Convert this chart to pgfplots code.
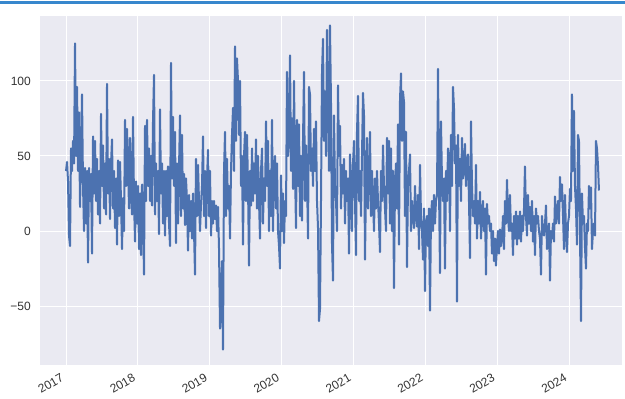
\documentclass[border=0pt]{standalone}
\usepackage{pgfplots}
\pgfplotsset{compat=1.18}
\usepackage{pgfplotstable}
\usepackage{fontspec}
\setmainfont{Liberation Sans}
\definecolor{sbblue}{HTML}{4C72B0}
\definecolor{sbbg}{HTML}{EAEAF2}
\definecolor{topblue}{RGB}{55,135,205}

\pgfplotstableread{
px v
66 40
67 46
68 33
69 -3
70 -10
71 55
72 40
73 60
74 45
75 125
76 50
77 96
78 40
79 79
80 16
81 50
82 91
83 30
84 0
85 42
86 5
87 40
88 -21
89 42
90 20
91 38
92 -15
93 63
94 25
95 60
96 20
97 48
98 11
99 40
100 5
101 78
102 30
103 57
104 15
105 45
106 11
107 98
108 25
109 48
110 8
111 45
112 61
113 15
114 40
115 2
116 35
117 -9
118 47
119 10
120 46
121 20
122 -12
123 22
124 0
125 74
126 30
127 68
128 44
129 15
130 62
131 25
132 11
133 76
134 20
135 -7
136 33
137 5
138 30
139 -12
140 25
141 -16
142 31
143 10
144 -29
145 70
146 20
147 74
148 30
149 55
150 20
151 50
152 17
153 73
154 104
155 11
156 45
157 20
158 40
159 -2
160 81
161 25
162 45
163 5
164 40
165 -3
166 40
167 10
168 43
169 5
170 -10
171 112
172 35
173 76
174 30
175 66
176 -8
177 45
178 5
179 42
180 77
181 10
182 64
183 15
184 38
185 4
186 35
187 20
188 -13
189 24
190 0
191 20
192 -5
193 25
194 0
195 -29
196 48
197 10
198 44
199 20
200 0
201 18
202 30
203 63
204 10
205 40
206 2
207 35
208 54
209 10
210 40
211 -3
212 20
213 5
214 20
215 8
216 17
217 0
218 16
219 -12
220 -65
221 -50
222 -20
223 -79
224 40
225 66
226 10
227 48
228 15
229 30
230 -5
231 40
232 64
233 82
234 40
235 123
236 60
237 115
238 100
239 64
240 100
241 30
242 50
243 -9
244 50
245 66
246 20
247 64
248 30
249 -23
250 40
251 17
252 55
253 20
254 45
255 25
256 61
257 15
258 50
259 20
260 -5
261 40
262 55
263 5
264 35
265 20
266 73
267 30
268 60
269 0
270 40
271 10
272 74
273 0
274 40
275 50
276 15
277 45
278 0
279 -10
280 -25
281 37
282 0
283 25
284 -8
285 20
286 10
287 106
288 50
289 60
290 117
291 40
292 75
293 28
294 100
295 40
296 2
297 74
298 30
299 71
300 10
301 50
302 7
303 60
304 106
305 20
306 57
307 35
308 -5
309 96
310 91
311 40
312 55
313 30
314 68
315 40
316 73
317 20
318 2
319 -60
320 -52
321 20
322 106
323 128
324 60
325 93
326 50
327 134
328 90
329 40
330 137
331 86
332 -9
333 -33
334 77
335 30
336 20
337 0
338 97
339 50
340 70
341 15
342 44
343 25
344 48
345 5
346 40
347 20
348 35
349 -15
350 51
351 30
352 0
353 45
354 60
355 20
356 -16
357 66
358 90
359 20
360 40
361 10
362 50
363 92
364 77
365 -19
366 30
367 62
368 15
369 35
370 66
371 10
372 40
373 20
374 0
375 35
376 15
377 40
378 20
379 5
380 -14
381 40
382 20
383 57
384 30
385 15
386 0
387 62
388 25
389 60
390 5
391 55
392 0
393 40
394 -38
395 30
396 45
397 15
398 71
399 -9
400 88
401 105
402 60
403 93
404 86
405 10
406 66
407 -24
408 30
409 40
410 51
411 0
412 20
413 10
414 2
415 30
416 10
417 3
418 24
419 -12
420 44
421 10
422 0
423 -19
424 15
425 -40
426 5
427 10
428 -10
429 15
430 -53
431 10
432 20
433 0
434 24
435 5
436 20
437 24
438 108
439 28
440 -28
441 73
442 33
443 20
444 35
445 -25
446 40
447 20
448 55
449 50
450 0
451 64
452 30
453 96
454 82
455 45
456 57
457 -47
458 64
459 30
460 48
461 20
462 62
463 35
464 40
465 58
466 30
467 45
468 51
469 20
470 -18
471 73
472 30
473 10
474 20
475 5
476 44
477 -5
478 20
479 5
480 26
481 -5
482 10
483 20
484 0
485 15
486 -29
487 18
488 5
489 10
490 0
491 5
492 -15
493 0
494 -20
495 -5
496 -23
497 -10
498 0
499 -15
500 1
501 -10
502 -5
503 10
504 -12
505 20
506 5
507 34
508 10
509 0
510 24
511 0
512 5
513 -16
514 10
515 -5
516 13
517 -9
518 10
519 -5
520 13
521 -7
522 10
523 0
524 15
525 43
526 10
527 -3
528 24
529 5
530 16
531 0
532 20
533 -7
534 10
535 -16
536 15
537 5
538 10
539 0
540 -5
541 -29
542 10
543 0
544 -3
545 5
546 17
547 -12
548 0
549 5
550 -33
551 0
552 -5
553 5
554 -7
555 23
556 5
557 10
558 20
559 5
560 36
561 20
562 31
563 10
564 -12
565 24
566 0
567 -14
568 5
569 10
570 28
571 20
572 91
573 40
574 80
575 30
576 15
577 -9
578 64
579 60
580 -3
581 -60
582 25
583 5
584 10
585 -11
586 -25
587 5
588 0
589 30
590 15
591 29
592 -12
593 0
594 5
595 -3
596 60
597 55
598 44
599 27
}\series

\begin{document}
\begin{tikzpicture}
\path[use as bounding box] (-40pt,-34pt) rectangle (585pt,365pt);
\begin{axis}[
  at={(0pt,0pt)}, anchor=south west,
  scale only axis, width=582pt, height=349pt,
  xmin=2016.638, xmax=2024.733, ymin=-89.3, ymax=143.3,
  axis background/.style={fill=sbbg},
  axis line style={draw=none},
  grid=major, major grid style={white, line width=1pt},
  tick style={draw=none},
  xtick={2017,2018,2019,2020,2021,2022,2023,2024},
  xticklabels={2017,2018,2019,2020,2021,2022,2023,2024},
  ytick={-50,0,50,100}, yticklabels={−50,0,50,100},
  tick label style={font=\fontsize{12}{14}\selectfont, text=black!80},
  xticklabel style={rotate=30, anchor=north east, inner sep=0pt, xshift=-9pt, yshift=-4pt},
  yticklabel style={anchor=east, inner sep=0pt, xshift=-9pt},
]
\addplot[sbblue, line width=2pt, line join=round]
  table[x expr={2017+(\thisrow{px}-66)/71.9}, y=v]{\series};
\end{axis}
\draw[topblue, line width=2.4pt] (-40pt,362.5pt) -- (585pt,362.5pt);
\end{tikzpicture}
\end{document}
